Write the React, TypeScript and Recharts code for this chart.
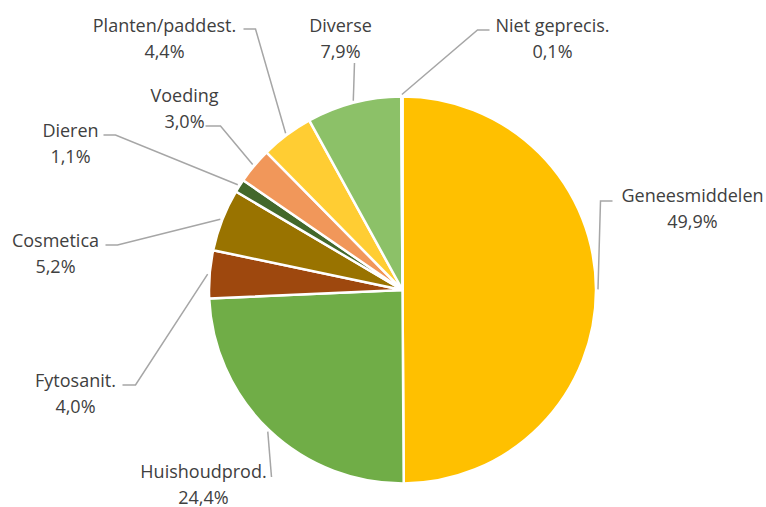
import React from 'react';
import { PieChart, Pie, Cell } from 'recharts';

const categories = [
  'Geneesmiddelen',
  'Huishoudprod.',
  'Fytosanit.',
  'Cosmetica',
  'Dieren',
  'Voeding',
  'Planten/paddest.',
  'Diverse',
  'Niet geprecis.',
];
const shares = [49.9, 24.4, 4.0, 5.2, 1.1, 3.0, 4.4, 7.9, 0.1];
const colors = ['#FFC000', '#70AD47', '#9E480E', '#997300', '#43682B', '#F1975A', '#FFCD33', '#8CC168', '#9DC3E6'];

// label layout, offsets from the pie centre: text centre (tx, ty of first line)
// and the leader path after it leaves the slice edge
const labelLayout = [
  { tx: 290, ty: -95, path: [[198, -89], [210, -89]] },
  { tx: -199, ty: 181, path: [[-131, 187]] },
  { tx: -327, ty: 90, path: [[-267, 95], [-280, 95]] },
  { tx: -347, ty: -50, path: [[-285, -45], [-297, -45]] },
  { tx: -332, ty: -160, path: [[-287, -155], [-299, -155]] },
  { tx: -218, ty: -195, path: [[-182, -164], [-197, -164]] },
  { tx: -238, ty: -265, path: [[-147, -261], [-159, -261]] },
  { tx: -62, ty: -265, path: [[-48, -227]] },
  { tx: 150, ty: -265, path: [[75, -260], [87, -260]] },
];

const data = categories.map((name, i) => ({ name, value: shares[i] }));

const CX = 402.5;
const CY = 290;
const R = 193.5;
const RAD = Math.PI / 180;
const FONT = "'Open Sans', sans-serif";

const renderLabel = (props: any) => {
  const { midAngle, index } = props;
  const lay = labelLayout[index];
  const sx = CX + (R + 2) * Math.cos(-midAngle * RAD);
  const sy = CY + (R + 2) * Math.sin(-midAngle * RAD);
  const pts = [[sx, sy], ...lay.path.map(([x, y]) => [CX + x, CY + y])];
  const d = pts.map((p, i) => `${i ? 'L' : 'M'}${p[0]},${p[1]}`).join(' ');
  const tx = CX + lay.tx;
  const ty = CY + lay.ty;
  return (
    <g key={`lbl-${index}`}>
      <path d={d} stroke="#A6A6A6" strokeWidth={1.5} fill="none" />
      <text x={tx} y={ty} textAnchor="middle" dominantBaseline="central" fill="#404040" fontSize={18} fontFamily={FONT}>
        {categories[index]}
      </text>
      <text x={tx} y={ty + 25.5} textAnchor="middle" dominantBaseline="central" fill="#404040" fontSize={18} fontFamily={FONT}>
        {shares[index].toFixed(1).replace('.', ',')}%
      </text>
    </g>
  );
};

export default function App() {
  return (
    <div style={{ position: 'absolute', left: 0, top: 0, width: 766, height: 507, background: '#fff' }}>
      <PieChart width={766} height={507} margin={{ top: 0, right: 0, bottom: 0, left: 0 }}>
        <Pie
          data={data}
          dataKey="value"
          nameKey="name"
          cx={CX}
          cy={CY}
          outerRadius={R}
          startAngle={90}
          endAngle={-270}
          stroke="#fff"
          strokeWidth={2.5}
          label={renderLabel}
          labelLine={false}
          isAnimationActive={false}
        >
          {data.map((d, i) => (
            <Cell key={d.name} fill={colors[i]} />
          ))}
        </Pie>
      </PieChart>
    </div>
  );
}
